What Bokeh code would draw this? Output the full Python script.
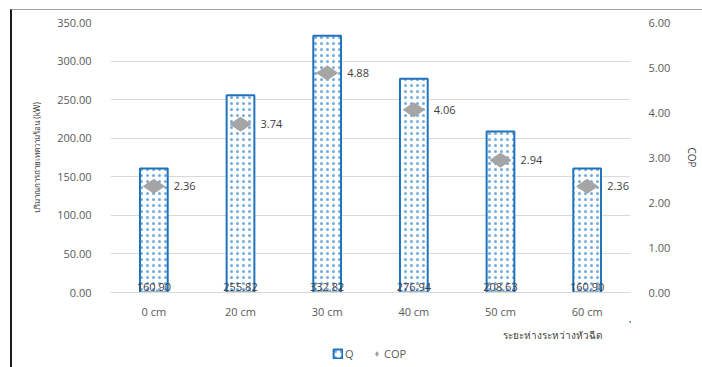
import math
from bokeh.plotting import figure
from bokeh.layouts import column
from bokeh.models import (Range1d, LinearAxis, FixedTicker, ColumnDataSource, Label,
                          Legend, LegendItem, NumeralTickFormatter)
from bokeh.embed import file_html
from bokeh.resources import INLINE

categories = ["0 cm", "20 cm", "30 cm", "40 cm", "50 cm", "60 cm"]
q_values = [160.90, 255.82, 332.82, 276.94, 208.63, 160.90]
cop_values = [2.36, 3.74, 4.88, 4.06, 2.94, 2.36]
q_ticks = [0, 50, 100, 150, 200, 250, 300, 350]
cop_ticks = [0, 1, 2, 3, 4, 5, 6]
y_title = "ปริมาณการถ่ายเทความร้อน (kW)"
x_title = "ระยะห่างระหว่างหัวฉีด"

FONT = "Open Sans"
TXT = "#595959"
BAR_LINE = "#1f73bd"
COP_COL = "#a5a5a5"

xs = [i + 0.5 for i in range(len(categories))]
src = ColumnDataSource(dict(
    x=xs, q=q_values, cop=cop_values,
    qlab=[f"{v:.2f}" for v in q_values],
    coplab=[f"{v:.2f}" for v in cop_values],
    zero=[0] * len(xs),
))

W = 690
H1 = 311
H2 = 46

p = figure(width=W, height=H1, output_backend="svg", toolbar_location=None,
           x_range=Range1d(0, len(categories)), y_range=Range1d(0, 350),
           min_border_left=98, min_border_right=W - 98 - 523, min_border_top=12,
           min_border_bottom=H1 - 12 - 271)
p.extra_y_ranges = {"cop": Range1d(0, 6)}
p.outline_line_color = None
p.background_fill_color = "white"
p.border_fill_color = "white"

p.xgrid.grid_line_color = None
p.ygrid.grid_line_color = "#d9d9d9"
p.ygrid.ticker = FixedTicker(ticks=q_ticks)

xa = p.xaxis[0]
xa.ticker = FixedTicker(ticks=xs)
xa.major_label_overrides = {x: c for x, c in zip(xs, categories)}
xa.axis_line_color = "#d9d9d9"
xa.major_tick_line_color = None
xa.minor_tick_line_color = None
xa.major_label_text_font = FONT
xa.major_label_text_font_size = "11px"
xa.major_label_text_color = TXT
xa.major_label_standoff = 5

ya = p.yaxis[0]
ya.ticker = FixedTicker(ticks=q_ticks)
ya.formatter = NumeralTickFormatter(format="0.00")
ya.axis_line_color = None
ya.major_tick_line_color = None
ya.minor_tick_line_color = None
ya.major_label_text_font = FONT
ya.major_label_text_font_size = "11px"
ya.major_label_text_color = TXT
ya.major_label_standoff = 13
ya.axis_label = y_title
ya.axis_label_text_font = "Noto Sans"
ya.axis_label_text_font_size = "8px"
ya.axis_label_text_font_style = "normal"
ya.axis_label_text_color = "#404040"
ya.axis_label_standoff = 12

ra = LinearAxis(y_range_name="cop", ticker=FixedTicker(ticks=cop_ticks),
                formatter=NumeralTickFormatter(format="0.00"))
ra.axis_line_color = None
ra.major_tick_line_color = None
ra.minor_tick_line_color = None
ra.major_label_text_font = FONT
ra.major_label_text_font_size = "11px"
ra.major_label_text_color = TXT
ra.major_label_standoff = 12
ra.axis_label = "COP"
ra.axis_label_text_font = FONT
ra.axis_label_text_font_size = "10px"
ra.axis_label_text_font_style = "normal"
ra.axis_label_text_color = "#404040"
ra.axis_label_standoff = 12
p.add_layout(ra, "right")

bar_style = dict(fill_color="white", line_color=BAR_LINE, line_width=2,
                 hatch_pattern="dot", hatch_color="#5b9bd5", hatch_scale=6,
                 hatch_weight=1, hatch_alpha=0.85)
p.vbar(x="x", top="q", width=0.32, source=src, **bar_style)

p.text(x="x", y="zero", text="qlab", source=src, y_offset=-2,
       text_align="center", text_baseline="bottom",
       text_font_size="11px", text_color="#404040",
       text_font={"value": FONT})

marker_style = dict(marker="diamond", angle=math.pi / 2, fill_color=COP_COL,
                    line_color=COP_COL)
p.scatter(x="x", y="cop", source=src, y_range_name="cop", size=21, **marker_style)
p.text(x="x", y="cop", text="coplab", source=src, y_range_name="cop", x_offset=20,
       text_align="left", text_baseline="middle", text_font_size="11px",
       text_color="#404040", text_font={"value": FONT})

# lower strip: x-axis title and legend (its frame is aligned with the chart's frame)
q2 = figure(width=W, height=H2, output_backend="svg", toolbar_location=None,
            x_range=Range1d(0, W), y_range=Range1d(0, H2),
            x_axis_location=None, y_axis_location=None, min_border=0)
q2.outline_line_color = None
q2.grid.visible = False
q2.border_fill_color = "white"
# off-screen ranges (to the right, above) so the legend proxies are not visible
q2.extra_x_ranges = {"off": Range1d(-20, -14)}
q2.extra_y_ranges = {"offy": Range1d(-1400, -1000)}

q2.add_layout(Label(x=587, y=H2 - 13, text=x_title, text_align="center",
                    text_baseline="middle", text_font="Noto Sans", text_font_size="10px",
                    text_color="#404040"))

lbar = q2.vbar(x="x", top="q", bottom="q", width=0.32, source=src, x_range_name="off",
               y_range_name="offy", **bar_style)
lpt = q2.scatter(x="x", y="cop", source=src, x_range_name="off", y_range_name="offy",
                 size=14, **marker_style)
legend = Legend(items=[LegendItem(label="Q", renderers=[lbar]),
                       LegendItem(label="COP", renderers=[lpt])],
                orientation="horizontal", location=(222, 6),
                label_text_font=FONT, label_text_font_size="11px",
                label_text_color=TXT, glyph_width=11, glyph_height=11,
                spacing=6, padding=0, margin=0, border_line_color=None,
                background_fill_alpha=0, label_standoff=2)
q2.add_layout(legend, "center")

layout = column(p, q2, spacing=0, margin=(9, 0, 0, 10),
                styles={"border-left": "2px solid #1a1a1a",
                        "border-top": "1px solid #a0a0a0"})

open("out.html", "w").write(file_html(layout, INLINE))
